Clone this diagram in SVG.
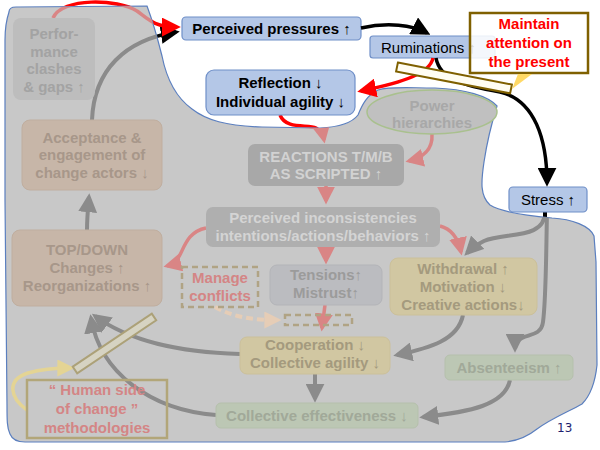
<svg xmlns="http://www.w3.org/2000/svg" width="600" height="450" viewBox="0 0 600 450">
<style>
.t{font-family:"Liberation Sans",Arial,sans-serif;font-weight:bold;text-anchor:middle;font-size:15px}
.r{font-family:"Liberation Sans",Arial,sans-serif;font-size:15px}
.blue{fill:#b4c7e7;stroke:#6f8fc8;stroke-width:1.2}
.gl{fill:none;stroke:#8b8b8b;stroke-width:4}
.pl{fill:none;stroke:#d98585;stroke-width:3.5}
.tan{fill:#c7b6a8;stroke:#c0ae9f;stroke-width:1}
.yel{fill:#d1c7a2;stroke:#cbc09a;stroke-width:1}
.grn{fill:#bcc7b4;stroke:#b5c0ac;stroke-width:1}
.tt{fill:#a7978a}
.ty{fill:#a49a7e}
.tg{fill:#a1a999}
.tp{fill:#d48585}
</style>
<defs>
<path id="region" d="M9,12 C9,8 12,7 16,7 L147,6 C153,22 158,40 162,56 C166,76 174,96 192,109 C206,120 226,126 262,127 L320,128 C340,127 352,123 358,115 C362,105 367,95 378,90 C390,86 410,88 435,88 C465,89 488,96 497,106 C492,122 487,142 484,162 C481,182 480,196 490,205 C503,213 530,216 552,218 C572,219 590,226 594,236 L596,262 L597,365 C595,384 590,396 582,404 C568,412 552,418 537,429 C527,437 517,441 505,442 L25,442 C16,442 12,439 10,434 C7,428 7,420 7,405 L5,200 L5,40 C5,28 7,18 9,12 Z"/>
<clipPath id="rc"><use href="#region"/></clipPath>
<marker id="ah-red" viewBox="0 0 20 20" refX="16" refY="10" markerWidth="19" markerHeight="19" markerUnits="userSpaceOnUse" orient="auto"><path d="M0,0 L20,10 L0,20 Z" fill="#ff0000"/></marker>
<marker id="ah-blk" viewBox="0 0 20 20" refX="16" refY="10" markerWidth="19" markerHeight="19" markerUnits="userSpaceOnUse" orient="auto"><path d="M0,0 L20,10 L0,20 Z" fill="#000"/></marker>
<marker id="ah-gry" viewBox="0 0 20 20" refX="16" refY="10" markerWidth="19" markerHeight="19" markerUnits="userSpaceOnUse" orient="auto"><path d="M0,0 L20,10 L0,20 Z" fill="#8b8b8b"/></marker>
<marker id="ah-pnk" viewBox="0 0 20 20" refX="16" refY="10" markerWidth="18" markerHeight="18" markerUnits="userSpaceOnUse" orient="auto"><path d="M0,0 L20,10 L0,20 Z" fill="#d98585"/></marker>
<marker id="ah-pch" viewBox="0 0 20 20" refX="16" refY="10" markerWidth="17" markerHeight="17" markerUnits="userSpaceOnUse" orient="auto"><path d="M0,0 L20,10 L0,20 Z" fill="#e6cdb6"/></marker>
<marker id="ah-yel" viewBox="0 0 20 20" refX="16" refY="10" markerWidth="17" markerHeight="17" markerUnits="userSpaceOnUse" orient="auto"><path d="M0,0 L20,10 L0,20 Z" fill="#e4d494"/></marker>
</defs>
<rect width="600" height="450" fill="#fff"/>

<!-- bright parts of connectors crossing the grey area -->
<g id="connectors-crossing">
<path d="M92,120 C94,70 125,40 176,32" fill="none" stroke="#000" stroke-width="3.5" marker-end="url(#ah-blk)"/>
<path d="M53,18 C62,-3 118,-1 137,11 C148,19 154,27 177,27" fill="none" stroke="#ff0000" stroke-width="3.5" marker-end="url(#ah-red)"/>
<path d="M280,115 C286,130 308,124 316,128 C321,131 323,135 324,140" fill="none" stroke="#ff0000" stroke-width="3.5"/>
<path d="M545,212 L545,225" fill="none" stroke="#000" stroke-width="4"/>
</g>

<use href="#region" fill="#c8c8c8" stroke="#5b7fbf" stroke-width="1.2"/>

<g id="connectors-faded" clip-path="url(#rc)">
<path d="M92,120 C94,70 125,40 176,32" class="gl" stroke-width="3.5"/>
<path d="M53,18 C62,-3 118,-1 137,11 C148,19 154,27 177,27" class="pl"/>
<path d="M280,115 C286,130 308,124 316,128 C321,131 323,135 324,140" class="pl" marker-end="url(#ah-pnk)"/>
<path d="M545,212 C545,240 505,232 484,241 C476,245 471,249 467,253" class="gl" marker-end="url(#ah-gry)"/>
<path d="M547,212 C546,260 546,300 543,322 C541,338 524,333 518,341 C516,344 515,346 515,349" class="gl" marker-end="url(#ah-gry)"/>
<path d="M510,380 C505,405 470,412 423,417" class="gl" marker-end="url(#ah-gry)"/>
<path d="M463,315 C458,340 430,348 397,355" class="gl" marker-end="url(#ah-gry)"/>
<path d="M315,374 L315,399" class="gl" marker-end="url(#ah-gry)"/>
<path d="M240,354 C180,352 130,342 95,316" class="gl" marker-end="url(#ah-gry)"/>
<path d="M216,415 C150,410 100,372 91,318" class="gl" marker-end="url(#ah-gry)"/>
<path d="M87,230 C87,218 88,208 89,197" class="gl" marker-end="url(#ah-gry)"/>
<path d="M206,228 C186,232 184,250 178,258 C175,262 171,265 167,266" class="pl" marker-end="url(#ah-pnk)"/>
<path d="M326,186 L326,201" class="pl" marker-end="url(#ah-pnk)"/>
<path d="M432,134 C433,150 422,158 409,161" class="pl" marker-end="url(#ah-pnk)"/>
<path d="M326,247 L326,261" class="pl" marker-end="url(#ah-pnk)"/>
<path d="M440,226 C452,229 458,238 461,252" class="pl" marker-end="url(#ah-pnk)"/>
<path d="M325,305 L322,328" class="pl" marker-end="url(#ah-pnk)"/>
<path d="M215,307 C235,318 255,320 278,320" fill="none" stroke="#e6cdb6" stroke-width="4" stroke-dasharray="7,4" marker-end="url(#ah-pch)"/>
<path d="M27,410 C10,398 6,380 28,373 C42,369 55,368 71,368" fill="none" stroke="#e4d494" stroke-width="3.5" marker-end="url(#ah-yel)"/>
</g>

<g id="n-perf"><rect x="13" y="18" width="82" height="82" rx="8" fill="#bdbdbd"/>
<text class="t" font-size="16" fill="#a3a3a3"><tspan x="54" y="39">Perfor-</tspan><tspan x="54" y="57">mance</tspan><tspan x="54" y="74">clashes</tspan><tspan x="54" y="92">&amp; gaps ↑</tspan></text></g>
<g id="n-accept"><rect x="22" y="120" width="140" height="70" rx="8" class="tan"/>
<text class="t tt"><tspan x="92" y="143">Acceptance &amp;</tspan><tspan x="92" y="160">engagement of</tspan><tspan x="92" y="178">change actors ↓</tspan></text></g>
<g id="n-topdown"><rect x="12" y="230" width="150" height="76" rx="8" class="tan"/>
<text class="t tt"><tspan x="87" y="255">TOP/DOWN</tspan><tspan x="87" y="273">Changes ↑</tspan><tspan x="87" y="291">Reorganizations ↑</tspan></text></g>
<g id="n-power"><ellipse cx="432" cy="112" rx="65" ry="22" fill="#c0c0c0" stroke="#a9c08e" stroke-width="1.5"/>
<text class="t" fill="#a8a8a8"><tspan x="432" y="111">Power</tspan><tspan x="432" y="128">hierarchies</tspan></text></g>
<g id="n-reactions"><rect x="248" y="144" width="156" height="42" rx="7" fill="#a8a8a8"/>
<text class="t" font-size="13.5" fill="#d2d2d2"><tspan x="326" y="162">REACTIONS T/M/B</tspan><tspan x="326" y="179">AS SCRIPTED ↑</tspan></text></g>
<g id="n-incons"><rect x="206" y="207" width="234" height="40" rx="7" fill="#afafaf"/>
<text class="t" fill="#d4d4d4"><tspan x="323" y="223">Perceived inconsistencies</tspan><tspan x="323" y="241">intentions/actions/behaviors ↑</tspan></text></g>
<g id="n-manage"><rect x="182" y="267" width="76" height="40" fill="none" stroke="#b0a384" stroke-width="2.5" stroke-dasharray="6,4"/>
<text class="t tp"><tspan x="220" y="283">Manage</tspan><tspan x="220" y="301">conflicts</tspan></text></g>
<g id="n-tensions"><rect x="270" y="265" width="112" height="40" rx="7" fill="#bbbcc0" stroke="#b3b4b8"/>
<text class="t" fill="#9b9b9b"><tspan x="326" y="280">Tensions↑</tspan><tspan x="326" y="298">Mistrust↑</tspan></text></g>
<g id="n-slot"><rect x="285" y="315" width="67" height="10" fill="none" stroke="#b0a384" stroke-width="2.5" stroke-dasharray="6,4"/></g>
<g id="n-withdrawal"><rect x="390" y="258" width="147" height="57" rx="8" class="yel"/>
<text class="t ty"><tspan x="463" y="274">Withdrawal ↑</tspan><tspan x="463" y="292">Motivation ↓</tspan><tspan x="463" y="310">Creative actions↓</tspan></text></g>
<g id="n-coop"><rect x="240" y="337" width="150" height="37" rx="7" class="yel"/>
<text class="t ty"><tspan x="315" y="350">Cooperation ↓</tspan><tspan x="315" y="368">Collective agility ↓</tspan></text></g>
<g id="n-absent"><rect x="445" y="355" width="128" height="25" rx="5" class="grn"/>
<text class="t tg" x="509" y="373">Absenteeism ↑</text></g>
<g id="n-colleff"><rect x="216" y="403" width="202" height="25" rx="5" class="grn"/>
<text class="t tg" x="317" y="421">Collective effectiveness ↓</text></g>
<g id="n-human"><rect x="27" y="380" width="140" height="58" fill="none" stroke="#b2a679" stroke-width="2.5"/>
<text class="t tp" font-size="16"><tspan x="97" y="395">“ Human side</tspan><tspan x="97" y="414">of change ”</tspan><tspan x="97" y="433">methodologies</tspan></text></g>
<g id="bar-bottom"><polygon points="72.8,366.7 151.8,313.7 156.2,320.3 77.2,373.3" fill="#d6d3c2" stroke="#aca178" stroke-width="2"/></g>

<!-- bright nodes -->
<g id="n-pressures"><rect x="182" y="17" width="179" height="23" rx="4" class="blue"/>
<text class="t" x="271.5" y="34" fill="#000">Perceived pressures ↑</text></g>
<g id="n-ruminations"><rect x="370" y="36" width="125" height="22" rx="3" class="blue"/>
<text class="r" x="381" y="52.5" fill="#000">Ruminations ↑</text></g>
<g id="n-reflection"><rect x="206" y="70" width="149" height="45" rx="8" class="blue"/>
<text class="t" fill="#000"><tspan x="280.5" y="88">Reflection ↓</tspan><tspan x="280.5" y="107">Individual agility ↓</tspan></text></g>
<g id="n-stress"><rect x="509" y="187" width="78" height="25" rx="4" class="blue"/>
<text class="r" x="548" y="204.5" text-anchor="middle" font-size="14" fill="#000">Stress ↑</text></g>

<g id="connectors">
<path d="M361,28 C388,22 412,25 427,33" fill="none" stroke="#000" stroke-width="3.5" marker-end="url(#ah-blk)"/>
<path d="M433,58 C430,73 405,82 361,91" fill="none" stroke="#ff0000" stroke-width="3.5" marker-end="url(#ah-red)"/>
<path d="M436,58 C440,80 465,86 500,92 C535,100 547,140 547,183" fill="none" stroke="#000" stroke-width="3.5" marker-end="url(#ah-blk)"/>
</g>

<g id="bar-top"><polygon points="397.9,62.6 511.9,84.6 510.1,93.4 396.1,71.4" fill="#fffdf2" stroke="#7f6000" stroke-width="2"/></g>

<g id="n-maintain"><rect x="470" y="13" width="118" height="60" fill="#fff" fill-opacity="0.85" stroke="#7f6000" stroke-width="2.5"/>
<polygon points="518,74 532,74 512,89" fill="#ffd966"/>
<text class="t" fill="#ff0000"><tspan x="529" y="29">Maintain</tspan><tspan x="529" y="48">attention on</tspan><tspan x="529" y="67">the present</tspan></text></g>

<text x="557" y="432" font-family="DejaVu Sans, sans-serif" font-size="12" fill="#1f1f6f">13</text>
</svg>
